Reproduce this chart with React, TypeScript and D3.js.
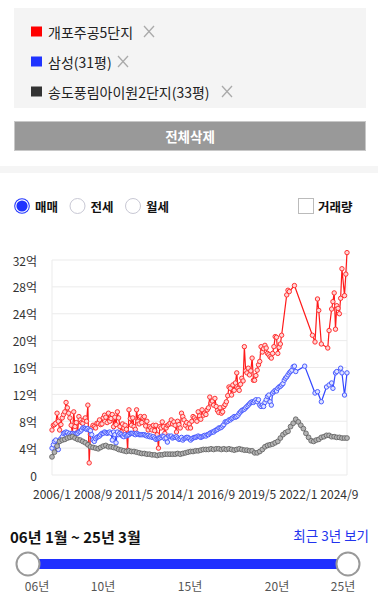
import React from "react";
import * as d3 from "d3";

// ---- data (억원) ----
const startMonth = "2006/1";
const endMonth = "2025/3";

const seriesNames = ["개포주공5단지", "삼성(31평)", "송도풍림아이원2단지(33평)"];
const seriesColors = ["#ff0000", "#1f33ff", "#333333"];

// monthly from 2006/1 (null = no trade)
const redValues: (number | null)[] = [
  6.7, 7.4, 7.5, 7.7, 9.2, 8.0, 6.7, 7.5, 8.5, 9.0, 9.4, 10.8,
  10.0, 9.2, 8.5, 7.4, 6.2, 9.4, 7.2, 7.8, 6.4, 8.7, 8.2, 7.8,
  7.7, 8.2, 8.5, 8.0, 10.4, 1.8, 6.0, 7.0, 7.4, 7.2, 7.0, 7.7,
  7.7, 8.2, 7.5, 7.6, 8.5, 8.9, 8.6, 7.8, 9.2, 8.0, 8.4, 9.0,
  7.2, 8.6, 7.5, 9.4, 8.5, 7.2, 6.4, 7.6, 7.0, 7.4, 6.8, 3.7,
  9.7, 8.4, 7.4, 8.5, 7.2, 6.8, 9.7, 8.0, 7.6, 8.7, 7.8, 8.5,
  8.7, 7.3, 8.0, 6.7, 7.2, 7.0, 6.7, 7.4, 6.6, 7.4, 6.0, 4.0,
  7.2, 7.0, 7.9, 7.2, 6.2, 7.0, 7.4, 7.5, 7.7, 8.2, 7.6, 7.9,
  7.4, 6.4, 8.0, 7.5, 7.0, 9.2, 8.7, 8.2, 7.4, 7.8, 7.0, 7.6,
  7.0, 8.0, 8.7, 8.5, 8.2, 8.0, 9.4, 8.8, 8.3, 9.7, 8.9, 9.2,
  9.0, 9.7, 10.0, 11.6, 10.7, 11.0, 10.4, 11.4, 10.2, 9.6, 9.3, 10.0,
  9.2, 9.4, 10.2, 10.5, 10.9, 11.8, 13.1, 12.9, 11.9, 13.4, 12.6, 13.7,
  15.2, 12.9, 12.6, 13.5, 14.4, 14.0, 19.1, 15.5, 15.2, 15.9, 14.9, 15.5,
  17.4, 14.1, 14.1, 14.8, 15.6, 16.4, 16.9, 19.1, 18.3, 18.8, 19.3, 18.9,
  18.1, 17.9, 17.6, 17.4, 18.1, 19.1, 20.6, 20.5, 18.1, 19.0, 19.5, 20.8,
  null, null, null, 26.8, 27.5, 27.3, null, null, null, 28.2, null, null,
  null, null, null, null, null, null, null, null, null, null, null, 20.8,
  null, 19.8, null, 26.2, 24.5, null, 19.5, null, null, null, null, 18.9,
  21.5, null, 24.7, 25.8, 27.1, 21.7, 25.2, 24.8, 24.0, 26.3, 30.7, null,
  26.7, 29.9, 33.1,
];

// monthly from 2006/1 (null = no trade)
const blueValues: (number | null)[] = [
  4.0, 4.5, 5.0, 5.2, 4.0, 3.8, 5.2, 5.4, 5.7, 6.2, 6.3, 6.4,
  6.3, 6.0, 6.2, 6.0, 6.2, 6.1, 6.0, 6.2, 6.2, 6.4, 6.5, 6.7,
  7.0, 7.0, 6.9, 6.8, 6.9, 6.7, 6.6, 6.0, 5.2, 5.0, 5.4, 5.6,
  5.7, 5.8, 6.0, 6.2, 6.2, 6.4, 6.3, 6.2, 6.3, 6.4, 6.2, 5.2,
  6.4, 6.0, 4.8, 6.4, 6.0, 6.2, 6.0, 5.8, 5.7, 6.0, 5.8, 5.9,
  6.0, 6.2, 6.2, 6.2, 6.1, 6.0, 6.2, 6.1, 6.0, 6.0, 6.0, 6.0,
  6.0, 5.9, 5.8, 5.9, 5.7, 5.8, 5.6, 5.7, 5.5, 5.3, 5.4, 5.5,
  5.5, 5.6, 5.8, 5.7, 5.4, 5.5, 4.9, 5.8, 5.7, 5.8, 5.5, 5.6,
  5.6, 5.7, 5.5, 5.3, 5.4, 5.6, 5.2, 5.4, 5.5, 5.6, 5.6, 5.4,
  5.2, 5.4, 5.5, 5.6, 5.6, 5.7, 5.8, 5.7, 5.6, 5.7, 5.8, 5.9,
  5.8, 6.0, 6.0, 6.2, 6.3, 6.4, 6.4, 6.6, 6.7, 6.8, 7.0, 7.0,
  7.1, 7.3, 7.5, 7.9, 7.9, 8.0, 8.2, 8.2, 8.4, 8.5, 8.7, 8.6,
  8.7, 8.9, 9.2, 9.4, 9.6, 9.7, 9.8, 10.0, 10.2, 10.4, 10.6, 10.8,
  10.9, 10.8, 11.0, 11.2, 10.9, 11.2, 10.4, 10.2, 10.4, 10.2, 10.8, 11.2,
  11.7, 11.9, 10.9, 10.4, 12.2, 12.4, 12.6, 12.5, 12.9, 13.1, 13.2, 13.4,
  13.6, 14.1, 14.4, 14.6, 14.9, 15.2, 15.4, 15.6, 16.1, 16.2, 15.4, null,
  null, null, null, null, null, 16.2, null, null, null, null, null, null,
  null, 12.2, null, 12.4, null, null, 10.9, null, null, null, 13.1, null,
  13.4, null, 13.7, 12.9, null, 15.2, 15.4, null, null, 15.9, 15.2, null,
  11.9, null, 15.2,
];

// every 2 months from 2006/1
const grayValues: (number | null)[] = [
  2.7, 3.4, 4.3, 5.0, 5.2, 5.3,
  5.5, 5.6, 5.7, 5.5, 5.3, 5.2,
  5.0, 4.8, 4.5, 4.2, 4.1, 4.0,
  3.9, 4.1, 4.3, 4.4, 4.2, 4.2,
  4.1, 4.0, 3.8, 3.7, 3.6, 3.5,
  3.6, 3.5, 3.5, 3.4, 3.3, 3.2,
  3.2, 3.1, 3.1, 3.0, 3.0, 2.9,
  3.0, 3.0, 3.1, 3.1, 3.1, 3.1,
  3.1, 3.2, 3.1, 3.2, 3.3, 3.4,
  3.5, 3.5, 3.6, 3.6, 3.7, 3.8,
  3.8, 3.8, 3.9, 3.8, 3.9, 3.9,
  3.8, 3.9, 3.8, 3.9, 3.8, 3.7,
  3.8, 3.9, 3.8, 3.7, 3.7, 3.6,
  3.6, 3.3, 3.3, 3.5, 3.8, 4.2,
  4.4, 4.5, 4.6, 4.8, 5.0, 5.5,
  6.0, 6.3, 6.5, 7.2, 7.7, 8.3,
  7.9, 7.4, 6.9, 6.2, 5.6, 5.1,
  5.0, 5.2, 5.3, 5.6, 5.7, 5.9,
  5.9, 5.7, 5.7, 5.6, 5.6, 5.5,
  5.5, 5.5,
];
const seriesStepMonths = [1, 1, 2];

const yTickValues = [0, 4, 8, 12, 16, 20, 24, 28, 32];
const xTickLabels = ["2006/1", "2008/9", "2011/5", "2014/1", "2016/9", "2019/5", "2022/1", "2024/9"];
const tradeTypes = ["매매", "전세", "월세"];
const sliderTicks = ["06년", "10년", "15년", "20년", "25년"];
const sliderTickYears = [2006, 2010, 2015, 2020, 2025];
const rangeLabel = "06년 1월 ~ 25년 3월";

const FONT = "'Noto Sans CJK KR', 'Noto Sans', sans-serif";

export default function App() {
  const parse = d3.timeParse("%Y/%m")!;
  const start = parse(startMonth)!;
  const end = parse(endMonth)!;
  const x = d3.scaleTime().domain([start, end]).range([52, 347]);
  const y = d3.scaleLinear().domain([0, 32]).range([475, 260]);

  const toPoints = (vals: (number | null)[], step: number) =>
    vals
      .map((v, i) => (v == null ? null : { d: d3.timeMonth.offset(start, i * step), v }))
      .filter((p): p is { d: Date; v: number } => p !== null);

  const line = d3
    .line<{ d: Date; v: number }>()
    .x((p) => x(p.d))
    .y((p) => y(p.v));

  const series = [
    { pts: toPoints(redValues, seriesStepMonths[0]), stroke: "#ff1a1a", mStroke: "#ff3030", mFill: "#ffd6d6", r: 2.2, sw: 1 },
    { pts: toPoints(blueValues, seriesStepMonths[1]), stroke: "#3347ff", mStroke: "#4a5cff", mFill: "#dfe3ff", r: 2.2, sw: 1 },
    { pts: toPoints(grayValues, seriesStepMonths[2]), stroke: "#6a6a6a", mStroke: "#666666", mFill: "#b4b4b4", r: 2.4, sw: 0.9 },
  ];

  const sliderX = d3.scaleLinear().domain([2006, 2010, 2020, 2025]).range([37, 103, 277, 343]);
  const sliderBar = d3.scaleLinear().domain([0, 1]).range([28, 348]);
  const legendY = d3.scalePoint<number>().domain([0, 1, 2]).range([31.5, 91.5]);
  const radioX = d3.scalePoint<number>().domain([0, 1, 2]).range([22, 133]);

  const legendTextWidth = [89, 63, 167];

  return (
    <svg
      width={378}
      height={606}
      style={{ position: "absolute", left: 0, top: 0, fontFamily: FONT }}
    >
      <rect x={0} y={0} width={378} height={606} fill="#fff" />
      {/* legend panel */}
      <rect x={14} y={8} width={352} height={100} fill="#f4f4f4" />
      {seriesNames.map((name, i) => {
        const cy = legendY(i)!;
        const xx = 48 + legendTextWidth[i] + 12;
        return (
          <g key={name}>
            <rect x={31} y={cy - 5} width={11} height={10} fill={seriesColors[i]} />
            <text x={48} y={cy} dominantBaseline="central" fontSize={14} fill="#222">
              {name}
            </text>
            <g stroke="#aaa" strokeWidth={1.3}>
              <line x1={xx - 5} y1={cy - 5.5} x2={xx + 5} y2={cy + 5.5} />
              <line x1={xx + 5} y1={cy - 5.5} x2={xx - 5} y2={cy + 5.5} />
            </g>
          </g>
        );
      })}
      {/* delete all button */}
      <rect x={14.5} y={121.5} width={351} height={29} fill="#999" stroke="#c8c8c8" />
      <text x={190} y={136} textAnchor="middle" dominantBaseline="central" fontSize={13.5} fontWeight={700} fill="#fff">
        전체삭제
      </text>
      {/* separator */}
      <rect x={0} y={166} width={378} height={7} fill="#f5f5f5" />

      {/* trade type radios */}
      {tradeTypes.map((t, i) => {
        const cx = radioX(i)!;
        return (
          <g key={t}>
            {i === 0 ? (
              <>
                <circle cx={cx} cy={206} r={7.8} fill="#1f33ff" />
                <circle cx={cx} cy={206} r={6.2} fill="none" stroke="#fff" strokeWidth={1.2} />
              </>
            ) : (
              <circle cx={cx} cy={206} r={7.5} fill="#fff" stroke="#c8c8d4" strokeWidth={1} />
            )}
            <text x={cx + 13} y={206} dominantBaseline="central" fontSize={12.5} fontWeight={700} fill="#111">
              {t}
            </text>
          </g>
        );
      })}
      <rect x={298.5} y={198.5} width={15} height={15} fill="#fff" stroke="#bbb" />
      <text x={318} y={206} dominantBaseline="central" fontSize={12.5} fontWeight={700} fill="#111">
        거래량
      </text>

      {/* chart grid */}
      {yTickValues.map((v) => (
        <g key={v}>
          <line x1={52} x2={347} y1={y(v)} y2={y(v)} stroke="#ebebeb" />
          <text x={37} y={y(v)} textAnchor="end" dominantBaseline="central" fontSize={12} fill="#333">
            {v === 0 ? "0" : `${v}억`}
          </text>
        </g>
      ))}
      <line x1={52} x2={52} y1={y(32)} y2={y(0)} stroke="#ebebeb" />
      <line x1={347} x2={347} y1={y(32)} y2={y(0)} stroke="#ebebeb" />
      {xTickLabels.map((l) => (
        <text key={l} x={x(parse(l)!)} y={493} textAnchor="middle" dominantBaseline="central" fontSize={12} fill="#333">
          {l}
        </text>
      ))}

      {/* series */}
      {series.map((s, si) => (
        <g key={si}>
          <path d={line(s.pts) || ""} fill="none" stroke={s.stroke} strokeWidth={1.2} />
          {s.pts.map((p, j) => (
            <circle key={j} cx={x(p.d)} cy={y(p.v)} r={s.r} fill={s.mFill} stroke={s.mStroke} strokeWidth={s.sw} />
          ))}
        </g>
      ))}

      {/* range selector */}
      <text x={10} y={536} dominantBaseline="central" fontSize={15} fontWeight={700} fill="#111">
        {rangeLabel}
      </text>
      <text x={369} y={535} textAnchor="end" dominantBaseline="central" fontSize={13.5} fill="#2233ee">
        최근 3년 보기
      </text>
      <rect x={sliderBar(0)} y={559} width={sliderBar(1) - sliderBar(0)} height={10} fill="#1f2fff" />
      <circle cx={sliderBar(0)} cy={564} r={11.5} fill="#fff" stroke="#999" strokeWidth={2} />
      <circle cx={sliderBar(1)} cy={564} r={11.5} fill="#fff" stroke="#999" strokeWidth={2} />
      {sliderTicks.map((t, i) => (
        <text key={t} x={sliderX(sliderTickYears[i])} y={585} textAnchor="middle" dominantBaseline="central" fontSize={12} fill="#555">
          {t}
        </text>
      ))}
    </svg>
  );
}
